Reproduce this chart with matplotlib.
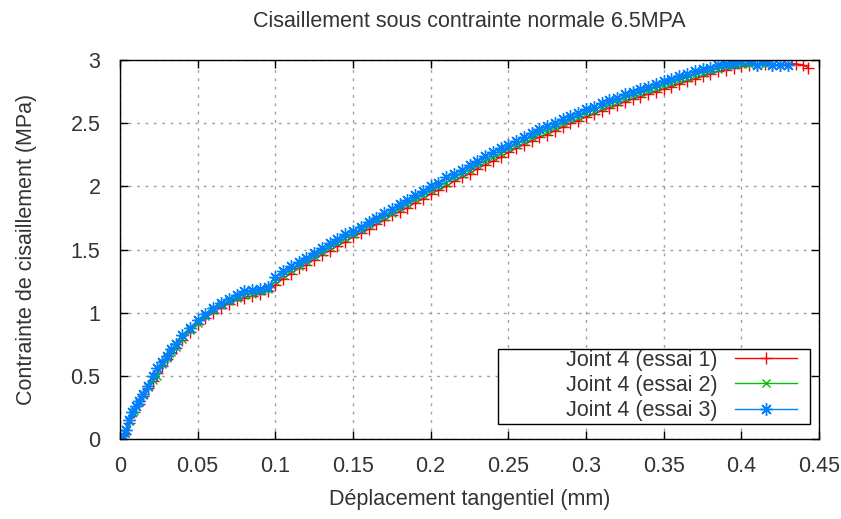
import matplotlib
matplotlib.use("Agg")
import matplotlib.pyplot as plt
from matplotlib.patches import Rectangle

# ---- data ----
x_e1 = [0.000, 0.003, 0.006, 0.009, 0.012, 0.015, 0.018, 0.021, 0.024, 0.027, 0.030, 0.033, 0.036,
        0.040, 0.045, 0.050, 0.055, 0.060, 0.065, 0.070, 0.075, 0.080, 0.085, 0.090, 0.095,
        0.100, 0.105, 0.110, 0.115, 0.120, 0.125, 0.130, 0.135, 0.140, 0.145, 0.150, 0.155,
        0.160, 0.165, 0.170, 0.175, 0.180, 0.185, 0.190, 0.195, 0.200, 0.205, 0.210, 0.215,
        0.220, 0.225, 0.230, 0.235, 0.240, 0.245, 0.250, 0.255, 0.260, 0.265, 0.270, 0.275,
        0.280, 0.285, 0.290, 0.295, 0.300, 0.305, 0.310, 0.315, 0.320, 0.325, 0.330, 0.335,
        0.340, 0.345, 0.350, 0.355, 0.360, 0.365, 0.370, 0.375, 0.380, 0.385, 0.390, 0.395,
        0.400, 0.405, 0.410, 0.415, 0.420, 0.425, 0.430, 0.435, 0.440, 0.443]
y_e1 = [0.00, 0.04, 0.13, 0.21, 0.28, 0.34, 0.40, 0.46, 0.52, 0.58, 0.63, 0.68, 0.72,
        0.78, 0.85, 0.91, 0.96, 1.00, 1.04, 1.07, 1.10, 1.12, 1.13, 1.15, 1.17,
        1.22, 1.27, 1.31, 1.35, 1.38, 1.42, 1.46, 1.49, 1.53, 1.56, 1.60, 1.63,
        1.66, 1.70, 1.73, 1.77, 1.80, 1.83, 1.87, 1.90, 1.94, 1.97, 2.00, 2.04,
        2.07, 2.10, 2.14, 2.17, 2.20, 2.23, 2.27, 2.30, 2.33, 2.36, 2.39, 2.41,
        2.44, 2.47, 2.50, 2.52, 2.55, 2.57, 2.60, 2.62, 2.64, 2.67, 2.69, 2.71,
        2.73, 2.75, 2.77, 2.79, 2.81, 2.83, 2.85, 2.87, 2.89, 2.91, 2.92, 2.94,
        2.95, 2.96, 2.96, 2.97, 2.96, 2.96, 2.97, 2.97, 2.96, 2.94]

x_e2 = [0.000, 0.003, 0.006, 0.009, 0.012, 0.015, 0.018, 0.021, 0.024, 0.027, 0.030, 0.033, 0.036,
        0.040, 0.045, 0.050, 0.055, 0.060, 0.065, 0.070, 0.075, 0.080, 0.085, 0.090, 0.095,
        0.100, 0.105, 0.110, 0.115, 0.120, 0.125, 0.130, 0.135, 0.140, 0.145, 0.150, 0.155,
        0.160, 0.165, 0.170, 0.175, 0.180, 0.185, 0.190, 0.195, 0.200, 0.205, 0.210, 0.215,
        0.220, 0.225, 0.230, 0.235, 0.240, 0.245, 0.250, 0.255, 0.260, 0.265, 0.270, 0.275,
        0.280, 0.285, 0.290, 0.295, 0.300, 0.305, 0.310, 0.315, 0.320, 0.325, 0.330, 0.335,
        0.340, 0.345, 0.350, 0.355, 0.360, 0.365, 0.370, 0.375, 0.380, 0.385, 0.390, 0.395,
        0.400, 0.405, 0.410, 0.415, 0.420]
y_e2 = [0.00, 0.05, 0.14, 0.22, 0.29, 0.35, 0.41, 0.47, 0.50, 0.59, 0.64, 0.69, 0.73,
        0.79, 0.86, 0.92, 0.97, 1.02, 1.06, 1.09, 1.12, 1.14, 1.15, 1.17, 1.19,
        1.25, 1.30, 1.34, 1.37, 1.41, 1.45, 1.48, 1.52, 1.55, 1.59, 1.62, 1.66,
        1.69, 1.73, 1.76, 1.79, 1.83, 1.86, 1.90, 1.93, 1.97, 2.00, 2.03, 2.07,
        2.10, 2.13, 2.17, 2.20, 2.23, 2.26, 2.30, 2.33, 2.36, 2.39, 2.42, 2.44,
        2.47, 2.50, 2.53, 2.55, 2.58, 2.60, 2.63, 2.65, 2.67, 2.70, 2.72, 2.74,
        2.76, 2.78, 2.80, 2.82, 2.84, 2.86, 2.88, 2.90, 2.92, 2.93, 2.95, 2.96,
        2.97, 2.97, 2.96, 2.97, 2.96]

x_e3 = [0.000, 0.002, 0.004, 0.006, 0.008, 0.010, 0.012, 0.015, 0.018, 0.021, 0.024, 0.027, 0.030,
        0.033, 0.036, 0.040, 0.045, 0.050, 0.055, 0.060, 0.065, 0.070, 0.075, 0.080, 0.085,
        0.090, 0.095, 0.100, 0.105, 0.110, 0.115, 0.120, 0.125, 0.130, 0.135, 0.140, 0.145,
        0.150, 0.155, 0.160, 0.165, 0.170, 0.175, 0.180, 0.185, 0.190, 0.195, 0.200, 0.205,
        0.210, 0.215, 0.220, 0.225, 0.230, 0.235, 0.240, 0.245, 0.250, 0.255, 0.260, 0.265,
        0.270, 0.275, 0.280, 0.285, 0.290, 0.295, 0.300, 0.305, 0.310, 0.315, 0.320, 0.325,
        0.330, 0.335, 0.340, 0.345, 0.350, 0.355, 0.360, 0.365, 0.370, 0.375, 0.380, 0.385,
        0.390, 0.395, 0.400, 0.405, 0.410, 0.415, 0.420, 0.425, 0.430]
y_e3 = [0.00, 0.02, 0.07, 0.15, 0.21, 0.26, 0.30, 0.36, 0.42, 0.50, 0.56, 0.61, 0.66,
        0.71, 0.75, 0.82, 0.88, 0.94, 0.99, 1.04, 1.08, 1.11, 1.14, 1.17, 1.18,
        1.19, 1.20, 1.28, 1.33, 1.37, 1.40, 1.43, 1.47, 1.51, 1.55, 1.58, 1.62,
        1.65, 1.68, 1.72, 1.75, 1.79, 1.82, 1.86, 1.89, 1.93, 1.96, 2.00, 2.03,
        2.07, 2.10, 2.13, 2.17, 2.20, 2.24, 2.27, 2.30, 2.33, 2.36, 2.39, 2.42,
        2.45, 2.48, 2.50, 2.53, 2.56, 2.58, 2.61, 2.63, 2.66, 2.68, 2.70, 2.73,
        2.75, 2.77, 2.79, 2.81, 2.83, 2.85, 2.87, 2.89, 2.91, 2.93, 2.94, 2.96,
        2.97, 2.98, 2.99, 2.99, 2.96, 2.99, 2.96, 2.96, 2.96]

labels = ["Joint 4 (essai 1)", "Joint 4 (essai 2)", "Joint 4 (essai 3)"]
x_ticks = [0, 0.05, 0.1, 0.15, 0.2, 0.25, 0.3, 0.35, 0.4, 0.45]
x_tick_labels = ["0", "0.05", "0.1", "0.15", "0.2", "0.25", "0.3", "0.35", "0.4", "0.45"]
y_ticks = [0, 0.5, 1, 1.5, 2, 2.5, 3]
y_tick_labels = ["0", "0.5", "1", "1.5", "2", "2.5", "3"]

# ---- styling ----
plt.rcParams['font.family'] = ['Liberation Sans', 'DejaVu Sans']
txt = '#333333'
fs = 15.5
fig = plt.figure(figsize=(8.41, 5.19), dpi=100)
ax = fig.add_axes([120/841, 1-439/519, 699/841, 379/519])

asterisk = (8, 2, 0)
ax.plot(x_e1, y_e1, color='#ff0000', lw=1, marker='+', ms=8, mew=1, label=labels[0])
ax.plot(x_e2, y_e2, color='#00c000', lw=1, marker='x', ms=6, mew=1, label=labels[1])
ax.plot(x_e3, y_e3, color='#0080ff', lw=1, marker=asterisk, ms=9, mew=1, label=labels[2])

ax.set_xlim(0, 0.45)
ax.set_ylim(0, 3)
ax.set_xticks(x_ticks)
ax.set_xticklabels(x_tick_labels)
ax.set_yticks(y_ticks)
ax.set_yticklabels(y_tick_labels)
ax.tick_params(direction='in', top=True, right=True, length=6, width=1,
               labelsize=fs, colors='black', labelcolor=txt)
ax.tick_params(axis='x', pad=12)
ax.tick_params(axis='y', pad=14)
ax.grid(True, color='#a0a0a0', linestyle=(0, (2, 4)), linewidth=1)
for s in ax.spines.values():
    s.set_linewidth(1)
    s.set_color('black')

ax.set_title("Cisaillement sous contrainte normale 6.5MPA", fontsize=fs, color=txt, pad=23.5)
ax.set_xlabel("Déplacement tangentiel (mm)", fontsize=fs, color=txt, labelpad=9)
ax.set_ylabel("Contrainte de cisaillement (MPa)", fontsize=fs, color=txt, labelpad=24)

# legend frame drawn separately (gnuplot-style box)
ax.add_patch(Rectangle((0.5408, 0.0396), 0.4464, 0.1979, transform=ax.transAxes,
                       facecolor='white', edgecolor='black', lw=1, zorder=5))
leg = ax.legend(loc='lower right', bbox_to_anchor=(0.9685, 0.047), borderaxespad=0,
                markerfirst=False, fontsize=fs, frameon=False,
                handlelength=2.9, labelspacing=0.2, borderpad=0, handletextpad=0.8,
                labelcolor=txt)
leg.set_zorder(6)
fig.savefig("out.png", dpi=100)
